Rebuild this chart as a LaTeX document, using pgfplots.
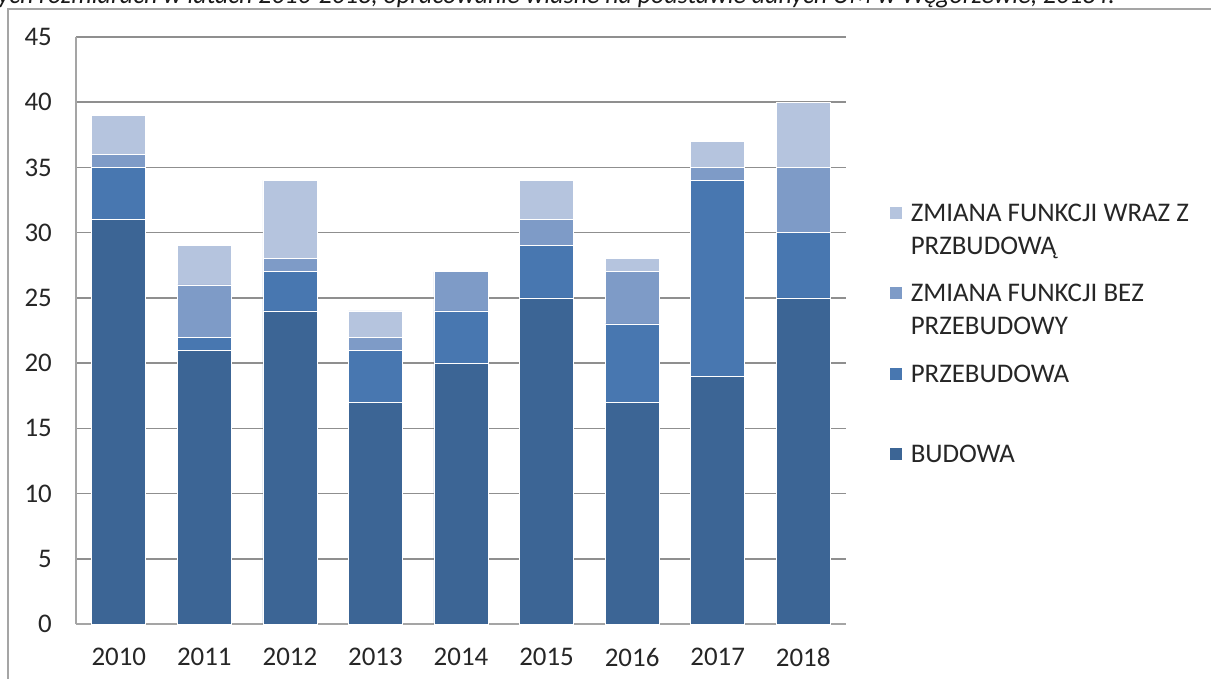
\documentclass[border=0pt]{standalone}
\usepackage{pgfplots}
\pgfplotsset{compat=1.18}
\usepackage{fontspec}
\setmainfont{Carlito}
\definecolor{cBud}{HTML}{3C6595}
\definecolor{cPrz}{HTML}{4877B0}
\definecolor{cBez}{HTML}{7E9BC7}
\definecolor{cWraz}{HTML}{B5C4DE}
\definecolor{gridc}{HTML}{8F8F8F}
\begin{document}
\begin{tikzpicture}
\useasboundingbox (-76bp,-55bp) rectangle (1135bp,624bp);
\draw[gridc!80, line width=1.5bp] (-68bp,-60bp) -- (-68bp,615bp) -- (1140bp,615bp);
\node[anchor=base east, inner sep=0pt, text=black!90, font=\fontsize{26}{31}\selectfont\itshape] at (1039bp,620bp) {budynków w różnych rozmiarach w latach 2010-2018, opracowanie własne na podstawie danych UM w Węgorzewie, 2018 r.};
\begin{axis}[
  scale only axis, width=770bp, height=587bp,
  at={(0,0)}, anchor=south west,
  ybar stacked, bar width=54bp,
  xmin=-0.5, xmax=8.5, ymin=0, ymax=45,
  ytick={0,5,...,45},
  xtick={0,1,2,3,4,5,6,7,8},
  xticklabels={2010,2011,2012,2013,2014,2015,2016,2017,2018},
  axis x line*=bottom, axis y line*=left,
  axis line style={gridc!80, line width=1.5bp, -},
  major tick length=0pt,
  ymajorgrids, grid style={gridc, line width=1.5bp},
  tick label style={font=\fontsize{27}{32}\selectfont, text=black!85},
  /pgf/number format/assume math mode=true,
  yticklabel style={inner sep=0pt, xshift=-24bp},
  xticklabel style={inner sep=0pt, yshift=-24bp},
  reverse legend,
  legend style={at={(rel axis cs:1.0558,0.7257)}, anchor=north west, draw=none, fill=none, inner sep=0pt, row sep=56bp, font=\fontsize{27}{33}\selectfont, text=black!85, cells={anchor=base west}, nodes={inner sep=0pt}},
  legend image code/.code={\fill[#1] (0bp,2bp) rectangle (13bp,15bp);},
  every axis plot/.append style={draw=white, line width=0.6bp},
]
\addplot[fill=cBud] coordinates {(0,31) (1,21) (2,24) (3,17) (4,20) (5,25) (6,17) (7,19) (8,25)};
\addplot[fill=cPrz] coordinates {(0,4) (1,1) (2,3) (3,4) (4,4) (5,4) (6,6) (7,15) (8,5)};
\addplot[fill=cBez] coordinates {(0,1) (1,4) (2,1) (3,1) (4,3) (5,2) (6,4) (7,1) (8,5)};
\addplot[fill=cWraz] coordinates {(0,3) (1,3) (2,6) (3,2) (4,0) (5,3) (6,1) (7,2) (8,5)};
\addlegendentry{\begin{tabular}[t]{@{\hspace{8bp}}l@{}}BUDOWA\\\mbox{}\end{tabular}}
\addlegendentry{\begin{tabular}[t]{@{\hspace{8bp}}l@{}}PRZEBUDOWA\\\mbox{}\end{tabular}}
\addlegendentry{\begin{tabular}[t]{@{\hspace{8bp}}l@{}}ZMIANA FUNKCJI BEZ\\PRZEBUDOWY\end{tabular}}
\addlegendentry{\begin{tabular}[t]{@{\hspace{8bp}}l@{}}ZMIANA FUNKCJI WRAZ Z\\PRZBUDOWĄ\end{tabular}}
\end{axis}
\end{tikzpicture}
\end{document}
